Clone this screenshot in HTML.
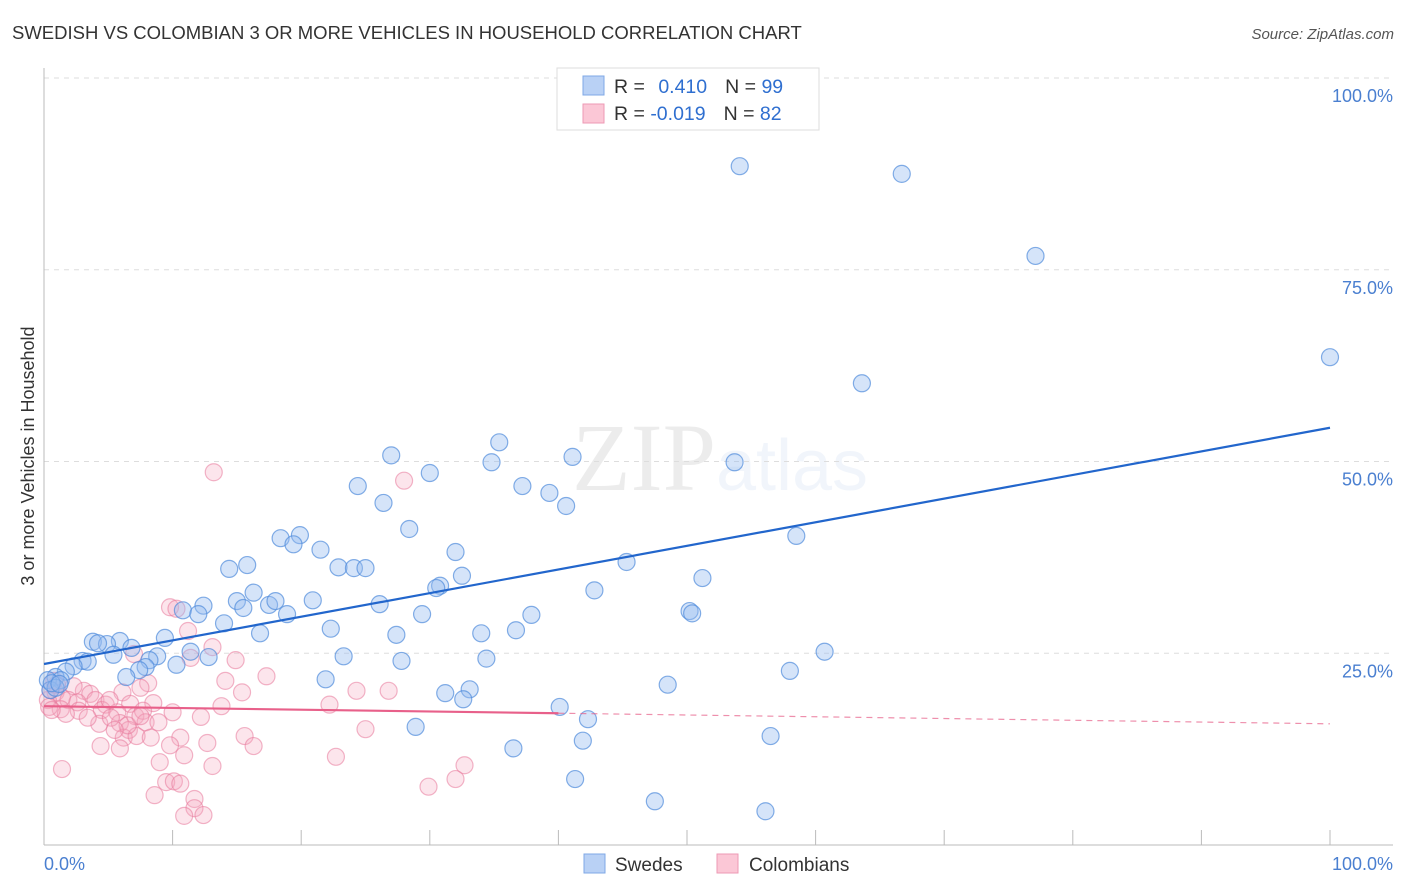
<!DOCTYPE html>
<html><head><meta charset="utf-8"><style>
body{margin:0;background:#fff;font-family:"Liberation Sans",sans-serif;}
svg{display:block}
</style></head><body>
<svg id="chart" width="1406" height="892" xmlns="http://www.w3.org/2000/svg">
<text x="12" y="39" font-size="18.5" fill="#333">SWEDISH VS COLOMBIAN 3 OR MORE VEHICLES IN HOUSEHOLD CORRELATION CHART</text>
<text x="1394" y="39" font-size="15" fill="#555" text-anchor="end" font-style="italic">Source: ZipAtlas.com</text>
<text x="720" y="490" font-size="96" text-anchor="middle" fill="#000" opacity="0.07" font-family="Liberation Serif">ZIP<tspan fill="#4a7fd0" opacity="1" font-family="Liberation Sans" font-size="72">atlas</tspan></text>
<g id="grid"></g><g id="axes"></g><g id="pts"></g><g id="lines"></g>
<text transform="translate(34,456) rotate(-90)" font-size="18" fill="#333" text-anchor="middle">3 or more Vehicles in Household</text>
<g>
<rect x="557" y="68" width="262" height="62" fill="#fff" stroke="#ddd"/>
<rect x="583" y="76" width="21" height="19" fill="#b9d1f5" stroke="#7fa8e6"/>
<rect x="583" y="104" width="21" height="19" fill="#fbc7d6" stroke="#ee9ab4"/>
<text x="614" y="93" font-size="19.5" fill="#333">R = <tspan fill="#2f6fd0" dx="8">0.410</tspan><tspan dx="18" fill="#333">N = </tspan><tspan fill="#2f6fd0">99</tspan></text>
<text x="614" y="120" font-size="19.5" fill="#333">R = <tspan fill="#2f6fd0">-0.019</tspan><tspan dx="18" fill="#333">N = </tspan><tspan fill="#2f6fd0">82</tspan></text>
</g>
<g>
<rect x="584" y="854" width="21" height="19" fill="#b9d1f5" stroke="#7fa8e6"/>
<text x="615" y="871" font-size="19" fill="#333">Swedes</text>
<rect x="717" y="854" width="21" height="19" fill="#fbc7d6" stroke="#ee9ab4"/>
<text x="749" y="871" font-size="19" fill="#333">Colombians</text>
</g>
</svg>
<script>
const yTicks=[25,50,75,100];
const yTickLabels=["25.0%","50.0%","75.0%","100.0%"];
const xTicks=[0,10,20,30,40,50,60,70,80,90,100];
const blueX=[54.1,66.7,77.1,100,63.6,35.4,27.0,34.8,41.1,30.0,53.7,24.4,37.2,39.3,26.4,40.6,28.4,58.5,18.4,19.9,19.4,21.5,32.0,45.3,14.4,15.8,22.9,24.1,25.0,32.5,30.8,30.5,51.2,42.8,16.3,15.0,12.4,10.8,17.5,18.0,20.9,26.1,15.5,18.9,12.0,29.4,37.9,50.2,50.4,14.0,16.8,22.3,36.7,34.0,27.4,9.4,3.8,5.9,4.9,6.8,4.2,5.4,8.8,11.4,23.3,34.4,27.8,60.7,8.2,10.3,7.9,7.4,12.8,3.0,3.4,2.3,1.7,6.4,58.0,0.9,1.3,0.3,48.5,21.9,33.1,31.2,32.6,40.1,42.3,28.9,41.9,56.5,36.5,41.3,47.5,56.1,0.5,0.9,0.6,1.2];
const blueY=[88.5,87.5,76.8,63.6,60.2,52.5,50.8,49.9,50.6,48.5,49.9,46.8,46.8,45.9,44.6,44.2,41.2,40.3,40.0,40.4,39.2,38.5,38.2,36.9,36.0,36.5,36.2,36.1,36.1,35.1,33.8,33.5,34.8,33.2,32.9,31.8,31.2,30.6,31.3,31.8,31.9,31.4,30.9,30.1,30.1,30.1,30.0,30.5,30.2,28.9,27.6,28.2,28.0,27.6,27.4,27.0,26.5,26.6,26.2,25.7,26.3,24.8,24.6,25.2,24.6,24.3,24.0,25.2,24.1,23.5,23.2,22.8,24.5,24.0,23.9,23.3,22.6,21.9,22.7,21.9,21.5,21.5,20.9,21.6,20.3,19.8,19.0,18.0,16.4,15.4,13.6,14.2,12.6,8.6,5.7,4.4,20.2,20.5,21.1,21.0];
const pinkX=[13.2,28.0,9.8,10.3,11.2,7.0,13.1,14.9,11.4,17.3,14.1,26.8,24.3,15.4,8.1,7.5,6.1,3.1,3.6,2.3,0.9,1.4,1.9,2.6,4.0,4.8,6.7,4.5,8.5,22.2,1.3,2.7,1.7,4.3,5.7,7.1,7.7,7.9,5.9,6.6,5.2,10.0,12.2,15.6,25.0,13.8,6.2,7.2,8.3,6.5,5.5,4.4,12.7,10.6,16.3,9.0,10.9,22.7,32.7,13.1,1.4,32.0,29.9,9.5,10.1,10.6,8.6,11.7,11.7,10.9,12.4,0.3,0.5,0.8,1.0,3.4,0.4,0.6,5.1,7.5,8.9,9.8,5.9];
const pinkY=[48.6,47.5,31.0,30.8,27.9,24.9,25.8,24.1,24.4,22.0,21.4,20.1,20.1,19.9,21.1,20.5,19.9,20.1,19.7,20.7,19.9,19.2,18.9,18.6,18.9,18.3,18.4,17.6,18.5,18.3,17.7,17.5,17.1,15.8,17.3,16.8,17.5,16.0,15.9,15.0,16.6,17.3,16.7,14.2,15.1,18.1,14.0,14.2,14.0,15.6,15.0,12.9,13.3,14.0,12.9,10.8,11.7,11.5,10.4,10.3,9.9,8.6,7.6,8.2,8.3,8.0,6.5,6.0,4.8,3.8,3.9,18.9,20.2,21.4,20.9,16.6,18.0,17.6,18.9,16.8,16.0,13.0,12.6];
const blueTrend=[23.6,54.4];
const pinkTrend=[18.1,15.8];
const pinkSolidEnd=40;

const NS="http://www.w3.org/2000/svg";
const sx=v=>44+v*12.86;
const sy=v=>845-v*7.67;
function mk(tag,attrs,parent){const e=document.createElementNS(NS,tag);for(const k in attrs)e.setAttribute(k,attrs[k]);parent.appendChild(e);return e;}
const grid=document.getElementById('grid'),axes=document.getElementById('axes'),pts=document.getElementById('pts'),lines=document.getElementById('lines');
yTicks.forEach((t,i)=>{
  const l=mk('line',{x1:44,x2:1393,y1:sy(t),y2:sy(t),stroke:'#ddd','stroke-dasharray':'5,5'},grid);
  
  
  const tx=mk('text',{x:1393,y:sy(t)+24,'font-size':18,fill:'#4a7fd0','text-anchor':'end'},axes);
  tx.textContent=yTickLabels[i];
  
  
});
const ax=mk('line',{x1:44,x2:44,y1:68,y2:845,stroke:'#bbb'},axes);


const bx=mk('line',{x1:44,x2:1393,y1:845,y2:845,stroke:'#bbb'},axes);


xTicks.forEach(t=>{
  const l=mk('line',{x1:sx(t),x2:sx(t),y1:830,y2:845,stroke:'#bbb'},axes);
  
  
});
[[0,'0.0%','start',44],[100,'100.0%','end',1393]].forEach(a=>{
  const tx=mk('text',{x:a[3],y:870,'font-size':18,fill:'#4a7fd0','text-anchor':a[2]},axes);
  tx.textContent=a[1];
  
  
});
pinkX.forEach((x,i)=>{
  const c=mk('circle',{cx:sx(x),cy:sy(pinkY[i]),r:8.5,fill:'rgba(246,170,192,0.3)',stroke:'rgba(232,120,155,0.55)','stroke-width':1.2},pts);
  
  
});
blueX.forEach((x,i)=>{
  const c=mk('circle',{cx:sx(x),cy:sy(blueY[i]),r:8.5,fill:'rgba(150,188,240,0.4)',stroke:'rgba(80,140,220,0.7)','stroke-width':1.2},pts);
  
  
});
const bl=mk('line',{x1:sx(0),y1:sy(blueTrend[0]),x2:sx(100),y2:sy(blueTrend[1]),stroke:'#2266cc','stroke-width':2.2},lines);


const pm=pinkTrend[0]+(pinkTrend[1]-pinkTrend[0])*pinkSolidEnd/100;
const pl=mk('line',{x1:sx(0),y1:sy(pinkTrend[0]),x2:sx(pinkSolidEnd),y2:sy(pm),stroke:'#e8608a','stroke-width':2.2},lines);


const pd=mk('line',{x1:sx(pinkSolidEnd),y1:sy(pm),x2:sx(100),y2:sy(pinkTrend[1]),stroke:'#e8608a','stroke-width':1.2,'stroke-dasharray':'6,5',opacity:0.7},lines);


</script>
</body></html>
